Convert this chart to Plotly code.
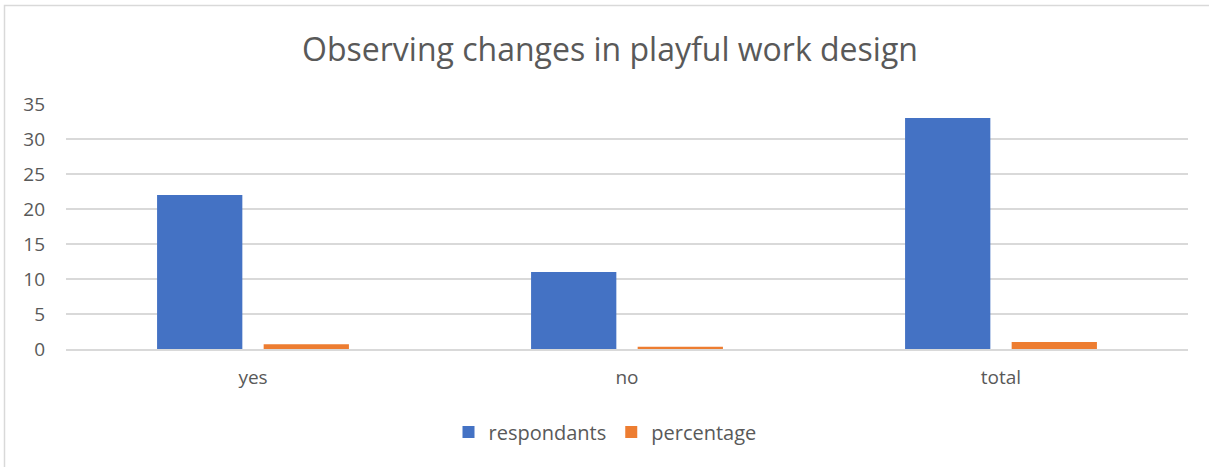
import plotly.graph_objects as go

categories = ["yes", "no", "total"]
respondants = [22, 11, 33]
percentage = [0.67, 0.33, 1.0]
y_ticks = [0, 5, 10, 15, 20, 25, 30, 35]

W, H = 1209, 467
L, R, T, B = 66, 21, 104, 118
pw = W - L - R
ph = H - T - B

font_family = "'Open Sans', Lato, sans-serif"
gray = "#595959"

fig = go.Figure()
fig.add_trace(go.Bar(name="respondants", x=categories, y=respondants,
                     marker=dict(color="#4472C4", line=dict(width=0))))
fig.add_trace(go.Bar(name="percentage", x=categories, y=percentage,
                     marker=dict(color="#ED7D31", line=dict(width=0))))

def px_x(p):
    return (p - L) / pw

def px_y(p):
    return (H - B - p) / ph

fig.update_layout(
    width=W, height=H,
    margin=dict(l=L, r=R, t=T, b=B),
    paper_bgcolor="white", plot_bgcolor="white",
    barmode="group", bargap=0.43, bargroupgap=0.20,
    title=dict(text="Observing changes in playful work design",
               x=610 / W, xanchor="center", y=1 - 50 / H, yanchor="middle",
               font=dict(family=font_family, size=32, color=gray)),
    font=dict(family=font_family, color=gray),
    xaxis=dict(showgrid=False, showline=True, linecolor="#d9d9d9", linewidth=1.5,
               ticks="", ticklabelstandoff=10,
               tickfont=dict(size=19, color=gray), fixedrange=True),
    yaxis=dict(range=[0, 35], tickvals=y_ticks, showgrid=True, gridcolor="#d9d9d9",
               gridwidth=1.5, zeroline=False, showline=False, ticks="",
               ticklabelstandoff=20,
               tickfont=dict(size=19, color=gray)),
    legend=dict(orientation="h", x=px_x(605), xanchor="center", y=px_y(432), yanchor="middle",
                font=dict(size=20, color=gray), itemwidth=30, traceorder="normal"),
    shapes=[dict(type="rect", xref="paper", yref="paper",
                 x0=px_x(4.5), x1=px_x(1250), y0=px_y(5.5), y1=px_y(520),
                 line=dict(color="#d9d9d9", width=1.5), fillcolor="rgba(0,0,0,0)",
                 layer="below")],
)

fig.write_html("out.html", config={"displayModeBar": False},
               post_script="document.body.style.margin='0px';")
